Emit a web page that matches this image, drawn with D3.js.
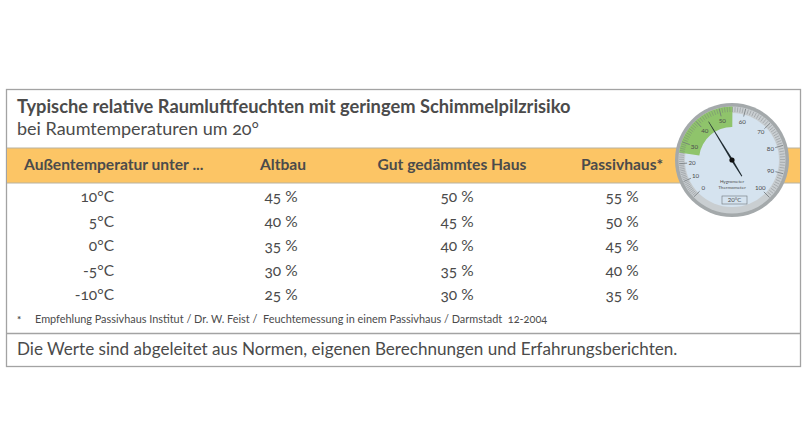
<!DOCTYPE html>
<html>
<head>
<meta charset="utf-8">
<script src="https://cdn.jsdelivr.net/npm/d3@7"></script>
<style>
    html, body { margin: 0; padding: 0; background: #fff; }
    svg { display: block; }
    text { font-family: Lato, "Open Sans", sans-serif; fill: #4b4b4b; font-feature-settings: "onum" 1; white-space: pre; }
</style>
</head>
<body>
<div id="chart"></div>
<script>
// table data
const title = "Typische relative Raumluftfeuchten mit geringem Schimmelpilzrisiko";
const subtitle = "bei Raumtemperaturen um 20°";
const footnote = "*";
const footnoteText = "Empfehlung Passivhaus Institut / Dr. W. Feist /  Feuchtemessung in einem Passivhaus / Darmstadt  12-2004";
const bottomNote = "Die Werte sind abgeleitet aus Normen, eigenen Berechnungen und Erfahrungsberichten.";
const firstHeader = "Außentemperatur unter ...";
const columns = ["Altbau", "Gut gedämmtes Haus", "Passivhaus*"];
const outdoorTemps = [10, 5, 0, -5, -10];
const altbau = [45, 40, 35, 30, 25];
const gutGedaemmt = [50, 45, 40, 35, 30];
const passivhaus = [55, 50, 45, 40, 35];

// hygrometer data, the dial is not linear
const dialLabels = [0, 10, 20, 30, 40, 50, 60, 70, 80, 90, 100];
const dialAngles = [-134, -114, -94, -70, -43, -14, 15, 46, 74, 105, 135];
const greenFrom = 25;
const greenTo = 55;
const needleValue = 44;

const svg = d3.select("#chart").append("svg").attr("width", 803).attr("height", 437);

// frame
svg.append("rect").attr("x", 6.5).attr("y", 89.5).attr("width", 794).attr("height", 277)
    .attr("fill", "#fff").attr("stroke", "#a3a3a3").attr("stroke-width", 1.3);
svg.append("line").attr("x1", 6.5).attr("x2", 800.5).attr("y1", 333.5).attr("y2", 333.5)
    .attr("stroke", "#a3a3a3").attr("stroke-width", 1.3);

// header band
svg.append("rect").attr("x", 7).attr("y", 148).attr("width", 793).attr("height", 35).attr("fill", "#fcc565");
svg.append("line").attr("x1", 7).attr("x2", 800).attr("y1", 148).attr("y2", 148).attr("stroke", "#b8b2a0");
svg.append("line").attr("x1", 7).attr("x2", 800).attr("y1", 183).attr("y2", 183).attr("stroke", "#b8b2a0");

svg.append("text").attr("x", 17).attr("y", 113).attr("font-size", 18.3).attr("font-weight", 700).text(title);
svg.append("text").attr("x", 17).attr("y", 135).attr("font-size", 18).text(subtitle);

// columns and rows
const x = d3.scaleOrdinal().domain(columns).range([283, 452, 622]);
const valueX = d3.scaleOrdinal().domain(columns).range([281, 457, 622]);
const y = d3.scalePoint().domain(outdoorTemps).range([197, 295]);

svg.append("text").attr("x", 24).attr("y", 170).attr("font-size", 15.6).attr("font-weight", 700).text(firstHeader);
svg.selectAll(".col-head").data(columns).join("text")
    .attr("class", "col-head")
    .attr("x", d => x(d)).attr("y", 170)
    .attr("text-anchor", "middle").attr("font-size", 15.6).attr("font-weight", 700)
    .text(d => d);

svg.selectAll(".row-label").data(outdoorTemps).join("text")
    .attr("class", "row-label")
    .attr("x", 114).attr("y", d => y(d))
    .attr("dy", "0.35em").attr("text-anchor", "end").attr("font-size", 15.5)
    .text(d => d + "°C");

[altbau, gutGedaemmt, passivhaus].forEach((vals, i) => {
    svg.selectAll(".val-" + i).data(vals).join("text")
        .attr("class", "val-" + i)
        .attr("x", valueX(columns[i]))
        .attr("y", (d, j) => y(outdoorTemps[j]))
        .attr("dy", "0.35em").attr("text-anchor", "middle").attr("font-size", 15.5)
        .text(d => d + " %");
});

svg.append("text").attr("x", 17).attr("y", 323).attr("font-size", 10).attr("font-weight", 700).text(footnote);
svg.append("text").attr("x", 35).attr("y", 323).attr("font-size", 10.9).text(footnoteText);
svg.append("text").attr("x", 17).attr("y", 355).attr("font-size", 17.1).text(bottomNote);

// hygrometer
const cx = 732, cy = 160;
const dial = svg.append("g").attr("transform", `translate(${cx},${cy})`);
const angle = d3.scaleLinear().domain(dialLabels).range(dialAngles);
const rad = d => angle(d) * Math.PI / 180;

dial.append("circle").attr("r", 57).attr("fill", "#a4a9ab");
dial.append("circle").attr("r", 53.5).attr("fill", "#c9ced1");
dial.append("circle").attr("r", 47).attr("fill", "#d5e3ef");

dial.append("path")
    .attr("d", d3.arc().innerRadius(33).outerRadius(53.5)({
        startAngle: rad(greenFrom), endAngle: rad(greenTo)
    }))
    .attr("fill", "#8fc46b");

// fine ticks, one per percent
dial.selectAll(".tick").data(d3.range(0, 101)).join("line")
    .attr("class", "tick")
    .attr("x1", d => (d % 10 === 0 ? 45 : 48) * Math.sin(rad(d)))
    .attr("y1", d => -(d % 10 === 0 ? 45 : 48) * Math.cos(rad(d)))
    .attr("x2", d => 53 * Math.sin(rad(d)))
    .attr("y2", d => -53 * Math.cos(rad(d)))
    .attr("stroke", "#6f7578")
    .attr("stroke-width", d => d % 10 === 0 ? 0.8 : 0.4);

dial.selectAll(".dial-label").data(dialLabels).join("text")
    .attr("class", "dial-label")
    .attr("x", d => 40 * Math.sin(rad(d)))
    .attr("y", d => -40 * Math.cos(rad(d)))
    .attr("dy", "0.35em").attr("text-anchor", "middle").attr("font-size", 6.2)
    .style("font-feature-settings", "normal")
    .text(d => d);

dial.append("text").attr("y", 22.5).attr("text-anchor", "middle").attr("font-size", 4.6).text("Hygrometer");
dial.append("text").attr("y", 28.5).attr("text-anchor", "middle").attr("font-size", 4.6).text("Thermometer");
dial.append("rect").attr("x", -10).attr("y", 36).attr("width", 25).attr("height", 8)
    .attr("fill", "none").attr("stroke", "#6f7578").attr("stroke-width", 0.6);
dial.append("text").attr("x", 2.5).attr("y", 42).attr("text-anchor", "middle").attr("font-size", 6)
    .style("font-feature-settings", "normal").text("20°C");

// needle, thicker towards the hub
dial.append("g").attr("transform", `rotate(${angle(needleValue)})`)
    .append("path")
    .attr("d", d3.line()([[-0.3, -45], [0.3, -45], [1, 0], [0.5, 19], [-0.5, 19], [-1, 0]]) + "Z")
    .attr("fill", "#1e2a30");
dial.append("circle").attr("r", 2.6).attr("fill", "#111");
</script>
</body>
</html>
